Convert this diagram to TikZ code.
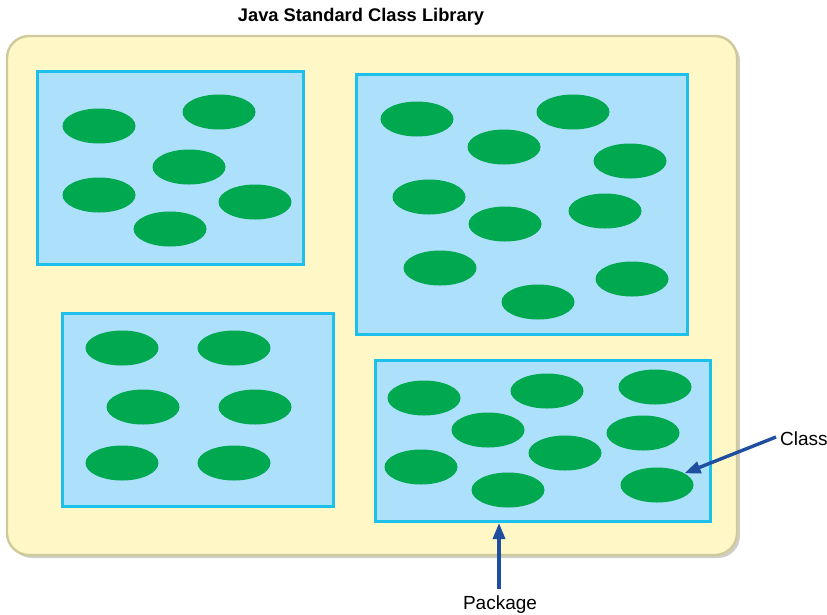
\documentclass[tikz,border=0pt]{standalone}
\usepackage{fontspec}
\setmainfont{Liberation Sans}
\usetikzlibrary{shapes.geometric,arrows.meta}
\definecolor{libfill}{HTML}{FFF8C6}
\definecolor{libedge}{HTML}{CFCA9C}
\definecolor{libshadow}{HTML}{CFCFC8}
\definecolor{pkgfill}{HTML}{ADE0FA}
\definecolor{pkgedge}{HTML}{1DC0EB}
\definecolor{clsfill}{HTML}{00A94F}
\definecolor{arrowblue}{HTML}{1F4E9F}
\tikzset{
  pkgbox/.style={draw=pkgedge, fill=pkgfill, line width=3pt, anchor=north west, inner sep=0pt},
  cls/.style={ellipse, fill=clsfill, minimum width=73pt, minimum height=35pt, inner sep=0pt},
  pointer/.style={draw=arrowblue, line width=3.4pt, -{Triangle[length=16pt,width=12pt]}},
  label/.style={font=\fontsize{19}{22}\selectfont, inner sep=0pt}
}
\begin{document}
\begin{tikzpicture}[x=1pt,y=-1pt]
\useasboundingbox (0,0) rectangle (827,614);
% library background with soft shadow
\fill[libshadow, rounded corners=22pt] (10,39) rectangle (740,558);
\draw[draw=libedge, fill=libfill, line width=2.4pt, rounded corners=22pt] (7,36) rectangle (737,555);
\node[font=\bfseries\fontsize{18.3}{21}\selectfont] (title) at (361,17) {Java Standard Class Library};

% packages
\node[pkgbox, minimum width=266pt, minimum height=193pt] (p1) at (36,70) {};
\node[pkgbox, minimum width=331pt, minimum height=260pt] (p2) at (355,73) {};
\node[pkgbox, minimum width=271pt, minimum height=193pt] (p3) at (61,312) {};
\node[pkgbox, minimum width=335pt, minimum height=161pt] (p4) at (374,359) {};

% classes of package 1
\node[cls] (a1) at (99,126) {};
\node[cls] (a2) at (219,112) {};
\node[cls] (a3) at (189,167) {};
\node[cls] (a4) at (99,195) {};
\node[cls] (a5) at (255,202) {};
\node[cls] (a6) at (170,229) {};

% classes of package 2
\node[cls] (b1) at (417,119) {};
\node[cls] (b2) at (573,112) {};
\node[cls] (b3) at (504,147) {};
\node[cls] (b4) at (630,161) {};
\node[cls] (b5) at (429,197) {};
\node[cls] (b6) at (505,224) {};
\node[cls] (b7) at (605,211) {};
\node[cls] (b8) at (440,268) {};
\node[cls] (b9) at (538,302) {};
\node[cls] (b10) at (632,279) {};

% classes of package 3
\node[cls] (c1) at (122,348) {};
\node[cls] (c2) at (234,348) {};
\node[cls] (c3) at (143,407) {};
\node[cls] (c4) at (255,407) {};
\node[cls] (c5) at (122,463) {};
\node[cls] (c6) at (234,463) {};

% classes of package 4
\node[cls] (d1) at (424,398) {};
\node[cls] (d2) at (547,391) {};
\node[cls] (d3) at (655,387) {};
\node[cls] (d4) at (488,430) {};
\node[cls] (d5) at (643,433) {};
\node[cls] (d6) at (565,453) {};
\node[cls] (d7) at (421,467) {};
\node[cls] (d8) at (508,490) {};
\node[cls] (d9) at (657,485) {};

% callouts
\node[label, anchor=west] (classlbl) at (780,439) {Class};
\node[label] (pkglbl) at (500,605) {Package};
\draw[pointer] (classlbl.west) ++(-4,-2) coordinate (classtail) -- (d9.23);
\draw[pointer] (pkglbl.north) ++(-1,-7) coordinate (pkgtail) -- (pkgtail |- p4.south);
\end{tikzpicture}
\end{document}
